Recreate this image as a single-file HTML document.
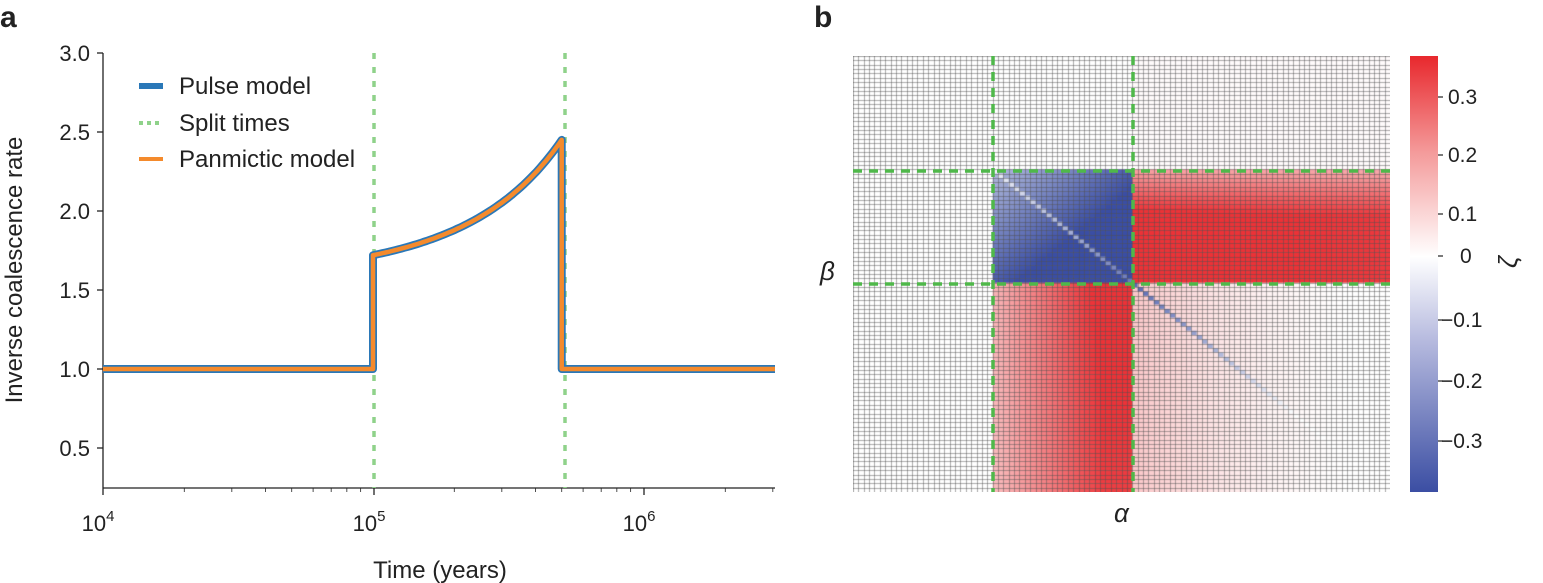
<!DOCTYPE html>
<html><head><meta charset="utf-8"><style>
body{margin:0;background:#fff;width:1543px;height:583px;overflow:hidden;font-family:"Liberation Sans",sans-serif;}
svg text{font-family:"Liberation Sans","DejaVu Sans",sans-serif;fill:#222}
#hm{position:absolute;left:853px;top:56px;}
#cb{position:absolute;left:1410px;top:56px;width:28px;height:436px;background:linear-gradient(to bottom,#e8282d 0%,#f49a9a 22%,#fff 46%,#b7bbdf 65%,#3b4ea3 100%);}
</style></head><body>
<svg width="1543" height="583" style="position:absolute;left:0;top:0">
<text x="0" y="27" font-size="30" font-weight="bold">a</text>
<text x="814" y="27" font-size="30" font-weight="bold">b</text>
<line x1="103" y1="53" x2="103" y2="488" stroke="#222" stroke-width="1.3"/>
<line x1="103" y1="488" x2="775" y2="488" stroke="#222" stroke-width="1.3"/>
<g stroke="#222" stroke-width="1.3">
<line x1="97" y1="53" x2="103" y2="53"/><line x1="97" y1="132" x2="103" y2="132"/><line x1="97" y1="211" x2="103" y2="211"/><line x1="97" y1="290" x2="103" y2="290"/><line x1="97" y1="369" x2="103" y2="369"/><line x1="97" y1="448" x2="103" y2="448"/>
<line x1="103" y1="488" x2="103" y2="495"/><line x1="374" y1="488" x2="374" y2="495"/><line x1="644" y1="488" x2="644" y2="495"/>
</g>
<g stroke="#222" stroke-width="0.8" id="minor"></g>
<g font-size="22" text-anchor="end">
<text x="90" y="61">3.0</text><text x="90" y="140">2.5</text><text x="90" y="219">2.0</text><text x="90" y="298">1.5</text><text x="90" y="377">1.0</text><text x="90" y="456">0.5</text>
</g>
<g font-size="22" text-anchor="middle">
<text x="98" y="531">10<tspan font-size="15" dy="-10">4</tspan></text>
<text x="369" y="531">10<tspan font-size="15" dy="-10">5</tspan></text>
<text x="639" y="531">10<tspan font-size="15" dy="-10">6</tspan></text>
<text x="440" y="578" font-size="24">Time (years)</text>
</g>
<text transform="translate(22,270) rotate(-90)" font-size="24" text-anchor="middle">Inverse coalescence rate</text>
<line x1="374" y1="53" x2="374" y2="488" stroke="#8fd28a" stroke-width="3.5" stroke-dasharray="6,8"/>
<line x1="565" y1="53" x2="565" y2="488" stroke="#8fd28a" stroke-width="3.5" stroke-dasharray="6,8"/>
<path id="blue" fill="none" stroke="#2a78b8" stroke-width="8" stroke-linejoin="round"/>
<path id="orange" fill="none" stroke="#f48a2c" stroke-width="4.5" stroke-linejoin="round"/>
<line x1="139" y1="86" x2="163" y2="86" stroke="#2a78b8" stroke-width="6"/>
<line x1="139" y1="123" x2="163" y2="123" stroke="#8fd28a" stroke-width="4" stroke-dasharray="4,4"/>
<line x1="139" y1="159" x2="163" y2="159" stroke="#f48a2c" stroke-width="4"/>
<g font-size="24"><text x="179" y="94">Pulse model</text><text x="179" y="131">Split times</text><text x="179" y="167">Panmictic model</text></g>
<text x="820" y="280" font-size="26" font-style="italic" font-family="Liberation Serif">β</text>
<text x="1114" y="522" font-size="26" font-style="italic" font-family="Liberation Serif">α</text>
<text transform="translate(1517,262) rotate(-90)" font-size="26" font-style="italic" font-family="Liberation Serif" text-anchor="middle">ζ</text>
<g stroke="#222" stroke-width="1.2">
<line x1="1438" y1="97" x2="1443" y2="97"/><line x1="1438" y1="155" x2="1443" y2="155"/><line x1="1438" y1="214" x2="1443" y2="214"/><line x1="1438" y1="256" x2="1443" y2="256"/><line x1="1438" y1="320" x2="1443" y2="320"/><line x1="1438" y1="381" x2="1443" y2="381"/><line x1="1438" y1="441" x2="1443" y2="441"/>
</g>
<g font-size="21">
<text x="1448" y="104">0.3</text><text x="1448" y="162">0.2</text><text x="1448" y="221">0.1</text><text x="1460" y="263">0</text><text x="1441" y="327">−0.1</text><text x="1441" y="388">−0.2</text><text x="1441" y="448">−0.3</text>
</g>
</svg>
<canvas id="hm" width="537" height="436"></canvas>
<div id="cb"></div>
<svg width="1543" height="583" style="position:absolute;left:0;top:0;pointer-events:none">
<g stroke="#4fb84a" stroke-width="3.5" stroke-dasharray="9,7">
<line x1="993" y1="56" x2="993" y2="492"/><line x1="1133" y1="56" x2="1133" y2="492"/>
<line x1="853" y1="171" x2="1390" y2="171"/><line x1="853" y1="284" x2="1390" y2="284"/>
</g></svg>
<script>
var g=document.getElementById('minor'),s='';
[4,5].forEach(function(d){for(var k=2;k<10;k++){var x=103+(d-4)*270+270*Math.log10(k);s+='<line x1="'+x+'" y1="488" x2="'+x+'" y2="492"/>';}});
for(var k=2;k<=3;k++){var x=644+270*Math.log10(k);s+='<line x1="'+x+'" y1="488" x2="'+x+'" y2="492"/>';}
g.innerHTML=s;
function X(t){return 103+270*(Math.log10(t)-4);} function Y(v){return 369-158*(v-1);}
var p='M103,'+Y(1)+' L'+X(1e5)+','+Y(1)+' L'+X(1e5)+','+Y(1.72);
for(var i=1;i<=60;i++){var t=1e5*Math.pow(5,i/60);var v=1.72*Math.exp(Math.log(2.45/1.72)*(t-1e5)/4e5);p+=' L'+X(t).toFixed(1)+','+Y(v).toFixed(1);}
p+=' L'+X(5e5)+','+Y(1)+' L775,'+Y(1);
document.getElementById('blue').setAttribute('d',p);document.getElementById('orange').setAttribute('d',p);
var c=document.getElementById('hm').getContext('2d');var N=100,a=26,b=52,cw=537/N,ch=436/N;
function col(v){var r,g,bb;if(v>=0){var f=Math.min(v/0.3,1);r=255+(236-255)*f;g=255+(50-255)*f;bb=255+(55-255)*f;}else{var f=Math.min(-v/0.3,1);r=255+(58-255)*f;g=255+(78-255)*f;bb=255+(165-255)*f;}return 'rgb('+(r|0)+','+(g|0)+','+(bb|0)+')';}
for(var j=0;j<N;j++)for(var i=0;i<N;i++){var v=0;
if(j<a){if(i>=b)v=0.006;}
else if(j<b){if(i>=a&&i<b){var d=((i-a)/26+(j-a)/26)/2;v=-0.12-0.2*Math.min(d*1.6,1);if(i==j)v=-0.03-0.2*(i-a)/26;}else if(i>=b){v=0.32*(0.45+0.55*Math.min((j-a)/10,1))*(1-0.1*(i-b)/48);}}
else{if(i>=a&&i<b){v=0.32*(0.35+0.65*Math.min((i-a)/20,1))*(1-0.12*(j-b)/48);}else if(i>=b){v=0.08*Math.pow(Math.max(0,1-(i-b)/42),1.6);if(i==j)v=-0.25*Math.max(0,1-(i-b)/30);}}
c.fillStyle=col(v);c.fillRect(i*cw,j*ch,cw+0.5,ch+0.5);}
c.strokeStyle='rgba(80,80,80,0.6)';c.lineWidth=0.8;c.beginPath();
for(var i=0;i<=N;i++){var x=Math.round(i*cw)+0.5;c.moveTo(x,0);c.lineTo(x,436);var y=Math.round(i*ch)+0.5;c.moveTo(0,y);c.lineTo(537,y);}
c.stroke();
</script>
</body></html>
